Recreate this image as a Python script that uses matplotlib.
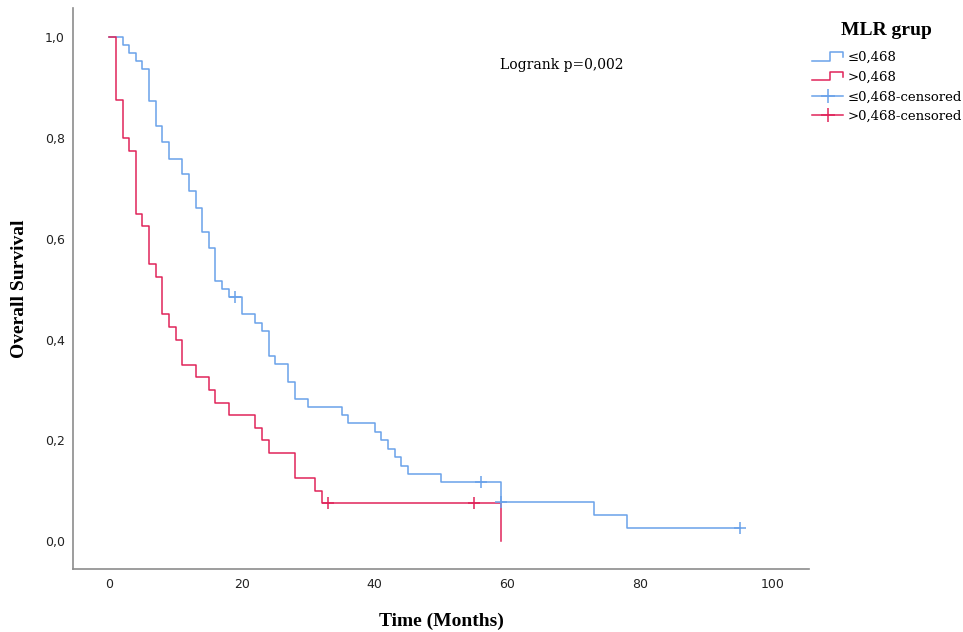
import numpy as np
import matplotlib
matplotlib.use('Agg')
import matplotlib.pyplot as plt
from matplotlib.lines import Line2D
from matplotlib.legend_handler import HandlerBase

# Kaplan-Meier step values, MLR <= 0,468
low_time = [0, 2, 3, 4, 5, 6, 7, 8, 9, 11, 12, 13, 14, 15, 16, 17, 18, 20, 22, 23,
            24, 25, 27, 28, 30, 35, 36, 40, 41, 42, 43, 44, 45, 50, 59, 73, 78, 95]
low_surv = [1.0, 0.985, 0.969, 0.953, 0.937, 0.873, 0.823, 0.792, 0.759, 0.728, 0.694,
            0.662, 0.613, 0.581, 0.517, 0.501, 0.485, 0.451, 0.433, 0.417, 0.368, 0.351,
            0.316, 0.283, 0.267, 0.250, 0.234, 0.217, 0.200, 0.183, 0.167, 0.150, 0.133,
            0.117, 0.078, 0.052, 0.026, 0.026]
low_cens_time = [19, 56, 59, 95]
low_cens_surv = [0.485, 0.117, 0.078, 0.026]

# MLR > 0,468
high_time = [0, 1, 2, 3, 4, 5, 6, 7, 8, 9, 10, 11, 13, 15, 16, 18, 22, 23, 24, 28, 31, 32, 59]
high_surv = [1.0, 0.875, 0.800, 0.775, 0.650, 0.625, 0.550, 0.525, 0.450, 0.425, 0.400,
             0.350, 0.325, 0.300, 0.275, 0.250, 0.225, 0.200, 0.175, 0.125, 0.100, 0.075, 0.0]
high_cens_time = [33, 55]
high_cens_surv = [0.075, 0.075]

xticks = [0, 20, 40, 60, 80, 100]
yticks = [0.0, 0.2, 0.4, 0.6, 0.8, 1.0]

blue = '#6aa2ea'
red = '#e0245a'


class StepHandler(HandlerBase):
    # small step-shaped icon like the SPSS legend
    def create_artists(self, legend, orig_handle, xdescent, ydescent, width, height, fontsize, trans):
        xs = np.array([0, 0.57, 0.57, 1.0, 1.0]) * width - xdescent
        ys = np.array([0.05, 0.05, 0.95, 0.95, 0.45]) * height - ydescent
        ln = Line2D(xs, ys, color=orig_handle.get_color(), lw=orig_handle.get_linewidth())
        ln.set_transform(trans)
        return [ln]


fig = plt.figure(figsize=(9.63, 6.32), dpi=100)
ax = fig.add_axes([0.0761, 0.0992, 0.7643, 0.8881])

ax.step(low_time, low_surv, where='post', color=blue, lw=1.1)
ax.step(high_time, high_surv, where='post', color=red, lw=1.1)
ax.plot(low_cens_time, low_cens_surv, ls='none', marker='+', ms=8, mew=1.1, color=blue)
ax.plot(high_cens_time, high_cens_surv, ls='none', marker='+', ms=8, mew=1.1, color=red)

ax.set_xlim(-5.43, 105.5)
ax.set_ylim(-0.056, 1.058)
ax.set_xticks(xticks)
ax.set_yticks(yticks)
ax.set_xticklabels([str(t) for t in xticks])
ax.set_yticklabels([f'{v:.1f}'.replace('.', ',') for v in yticks])
ax.tick_params(length=0, labelsize=9, colors='#222222')
ax.tick_params(axis='x', pad=6)
ax.tick_params(axis='y', pad=6)

for s in ['top', 'right']:
    ax.spines[s].set_visible(False)
for s in ['left', 'bottom']:
    ax.spines[s].set_color('#8c8c8c')
    ax.spines[s].set_linewidth(1.2)

ax.set_xlabel('Time (Months)', family='Liberation Serif', fontweight='bold', fontsize=14, labelpad=16)
ax.set_ylabel('Overall Survival', family='Liberation Serif', fontweight='bold', fontsize=14, labelpad=12)

ax.text(58.9, 0.944, 'Logrank p=0,002', family='DejaVu Serif', fontsize=10, va='center', ha='left')

fig.text(0.920, 0.9525, 'MLR grup', family='Liberation Serif', fontweight='bold', fontsize=14,
         ha='center', va='center')

handles = [Line2D([], [], color=blue, lw=1.1),
           Line2D([], [], color=red, lw=1.1),
           Line2D([], [], color=blue, lw=1.1, marker='+', ms=10, mew=1.1),
           Line2D([], [], color=red, lw=1.1, marker='+', ms=10, mew=1.1)]
labels = ['≤0,468', '>0,468', '≤0,468-censored', '>0,468-censored']
leg = fig.legend(handles, labels, loc='upper left', bbox_to_anchor=(0.843, 0.919),
                 frameon=False,
                 prop={'family': 'DejaVu Serif', 'size': 9.5},
                 handlelength=2.4, handletextpad=0.3, labelspacing=0.5,
                 borderaxespad=0, borderpad=0,
                 handler_map={handles[0]: StepHandler(), handles[1]: StepHandler()})

fig.savefig('out.png', dpi=100)
